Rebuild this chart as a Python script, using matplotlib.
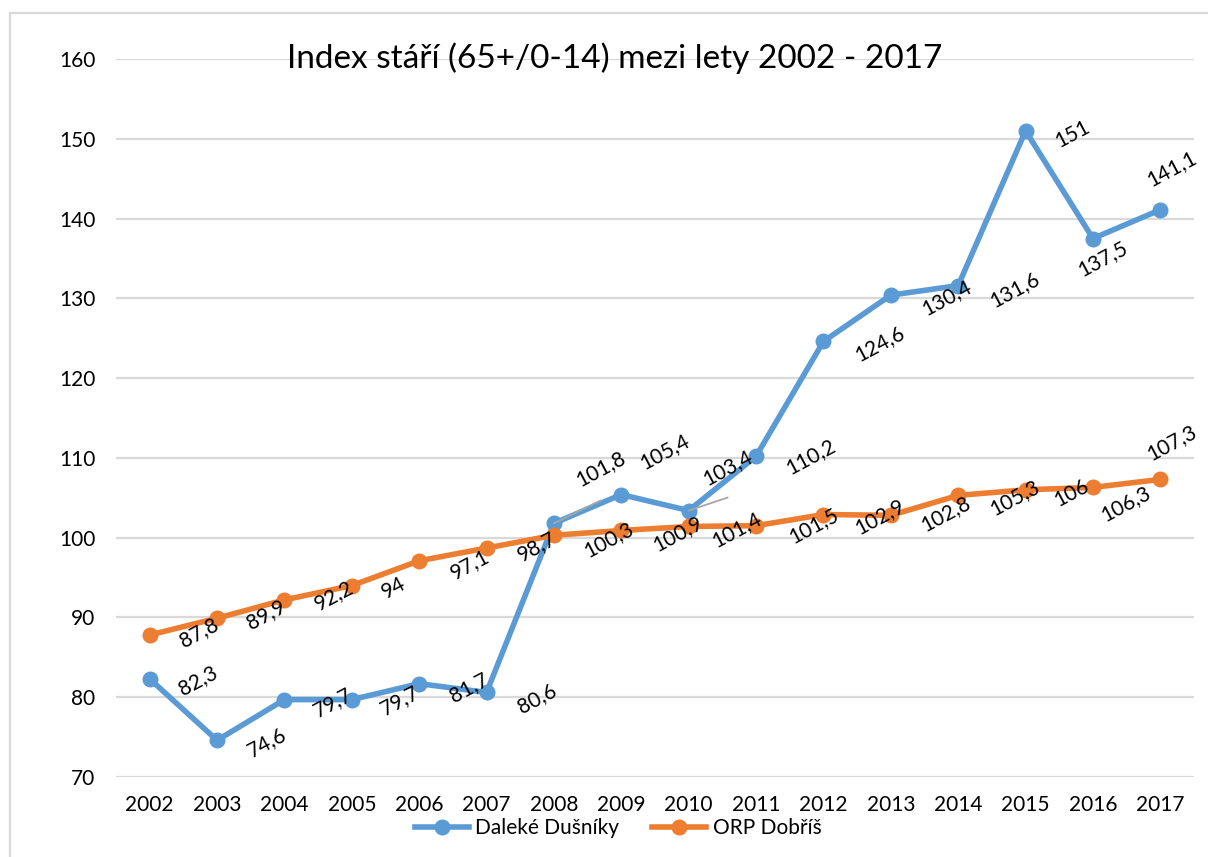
import matplotlib
matplotlib.use("Agg")
import matplotlib.pyplot as plt
from matplotlib.lines import Line2D

# ---- data ----
years = ["2002", "2003", "2004", "2005", "2006", "2007", "2008", "2009",
         "2010", "2011", "2012", "2013", "2014", "2015", "2016", "2017"]
dalekе_dusniky = [82.3, 74.6, 79.7, 79.7, 81.7, 80.6, 101.8, 105.4,
                  103.4, 110.2, 124.6, 130.4, 131.6, 151.0, 137.5, 141.1]
orp_dobris = [87.8, 89.9, 92.2, 94.0, 97.1, 98.7, 100.3, 100.9,
              101.4, 101.5, 102.9, 102.8, 105.3, 106.0, 106.3, 107.3]
series_names = ["Daleké Dušníky", "ORP Dobříš"]
title = "Index stáří (65+/0-14) mezi lety 2002 - 2017"
y_ticks = [70, 80, 90, 100, 110, 120, 130, 140, 150, 160]

# ---- label placement (style: pixel offsets of label centres) ----
blue_off = [(48, -2), (50, -2), (48, -3), (48, -1), (50, -4), (50, -6),
            (47, 55), (43, 43), (39, 43), (55, 0), (56, -2), (56, -2),
            (56, -4), (47, -3), (10, -20), (11, 41)]
orange_off = [(49, 2), (49, 4), (49, 4), (42, -2), (51, -4), (50, 2),
              (55, -4), (56, -3), (48, -3), (58, 0), (56, -2), (55, 2),
              (56, -2), (46, -3), (33, -16), (11, 37)]
leaders = {6: (47, 23), 8: (39, 13)}  # blue label leader lines

BLUE = "#5B9BD5"
ORANGE = "#ED7D31"
GRID = "#D9D9D9"
FONT = "Lato"

plt.rcParams["font.family"] = [FONT, "DejaVu Sans"]

fig = plt.figure(figsize=(12.08, 8.57), dpi=100)
ax = fig.add_axes([116 / 1208, 1 - 777 / 857, (1194 - 116) / 1208, (777 - 59) / 857])

x = list(range(len(years)))
ax.plot(x, dalekе_dusniky, color=BLUE, lw=4, marker="o", ms=10.5,
        solid_capstyle="round", solid_joinstyle="round", zorder=3, label=series_names[0])
ax.plot(x, orp_dobris, color=ORANGE, lw=4, marker="o", ms=10.5,
        solid_capstyle="round", solid_joinstyle="round", zorder=3, label=series_names[1])

def fmt(v):
    s = ("%.1f" % v).rstrip("0").rstrip(".")
    return s.replace(".", ",")

for i, v in enumerate(dalekе_dusniky):
    dx, dy = blue_off[i]
    if i in leaders:
        lx, ly = leaders[i]
        ax.annotate("", xy=(i, v), xytext=(lx, ly), textcoords="offset pixels",
                    arrowprops=dict(arrowstyle="-", color="#A6A6A6", lw=1.3,
                                    shrinkA=0, shrinkB=0), zorder=4)
    ax.annotate(fmt(v), xy=(i, v), xytext=(dx, dy), textcoords="offset pixels",
                ha="center", va="center", rotation=28, rotation_mode="anchor",
                fontsize=15, color="black", zorder=5)

for i, v in enumerate(orp_dobris):
    dx, dy = orange_off[i]
    ax.annotate(fmt(v), xy=(i, v), xytext=(dx, dy), textcoords="offset pixels",
                ha="center", va="center", rotation=28, rotation_mode="anchor",
                fontsize=15, color="black", zorder=5)

ax.set_xlim(-0.5, len(years) - 0.5)
ax.set_ylim(70, 160)
ax.set_yticks(y_ticks)
ax.set_xticks(x)
ax.set_xticklabels(years)
ax.tick_params(axis="both", length=0, labelsize=15, colors="black")
ax.tick_params(axis="x", pad=13)
ax.tick_params(axis="y", pad=15)
ax.grid(axis="y", color=GRID, lw=1.6)
ax.set_axisbelow(True)
for s in ax.spines.values():
    s.set_visible(False)

fig.text(615 / 1208, 1 - 58 / 857, title, ha="center", va="center", fontsize=24)

handles = [Line2D([], [], color=BLUE, lw=4, marker="o", ms=10.5),
           Line2D([], [], color=ORANGE, lw=4, marker="o", ms=10.5)]
fig.legend(handles, series_names, loc="center", bbox_to_anchor=(618 / 1208, 1 - 828 / 857),
           ncol=2, frameon=False, fontsize=15, handlelength=2.6, columnspacing=1.6,
           handletextpad=0.3)

# chart-area border (left and top visible)
fig.add_artist(Line2D([10 / 1208, 10 / 1208], [0, 1 - 13 / 857], transform=fig.transFigure,
                      color=GRID, lw=1.6))
fig.add_artist(Line2D([10 / 1208, 1], [1 - 13 / 857, 1 - 13 / 857], transform=fig.transFigure,
                      color=GRID, lw=1.6))

fig.savefig("out.png", dpi=100)
